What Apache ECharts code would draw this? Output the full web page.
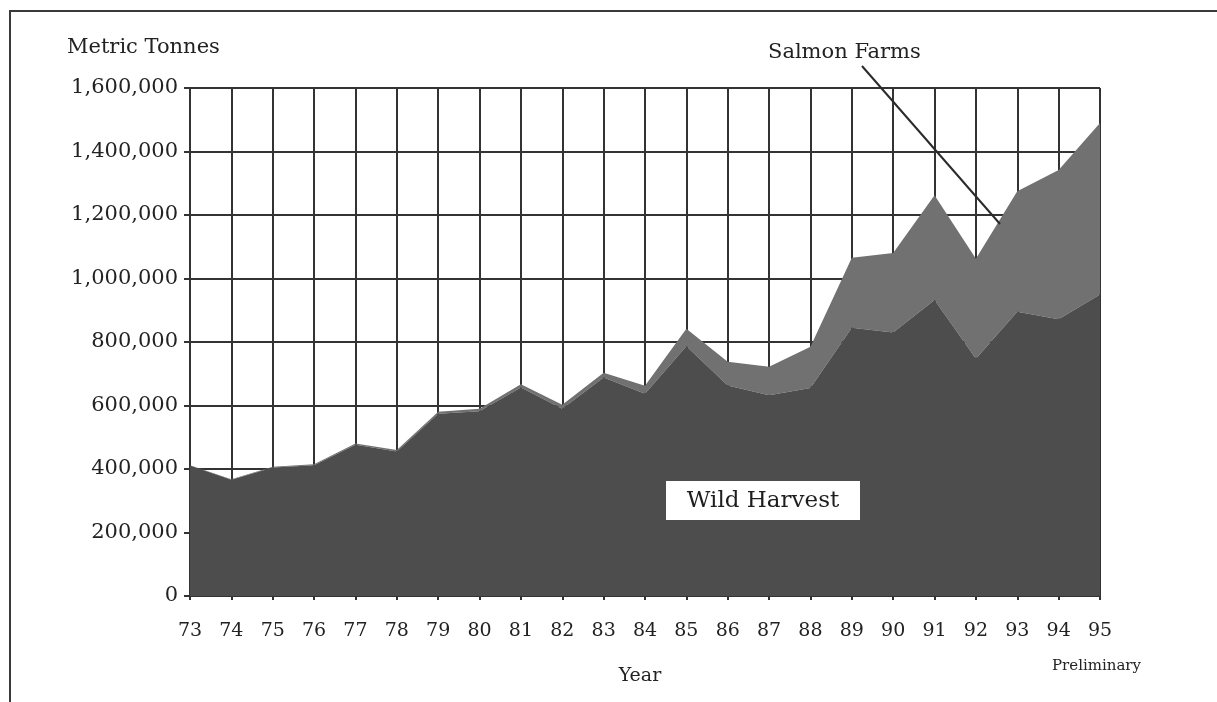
<!DOCTYPE html>
<html>
<head>
<meta charset="utf-8">
<script src="https://cdn.jsdelivr.net/npm/echarts@6/dist/echarts.min.js"></script>
<style>
* {
    margin: 0;
    padding: 0;
}
body {
    background: #ffffff;
}
#chart {
    width: 1217px;
    height: 702px;
}
</style>
</head>
<body>
<div id="chart"></div>
<script>
// years on the x axis
const years = ['73', '74', '75', '76', '77', '78', '79', '80', '81', '82', '83', '84',
    '85', '86', '87', '88', '89', '90', '91', '92', '93', '94', '95'];

// metric tonnes
const wildHarvest = [411, 366, 405, 412, 476, 455, 574, 582, 657, 590, 688, 637,
    787, 663, 632, 655, 845, 830, 932, 747, 895, 872, 950].map(v => v * 1000);
const salmonFarms = [1, 2, 2, 3, 4, 5, 6, 8, 10, 12, 15, 25,
    55, 75, 90, 130, 220, 250, 330, 315, 380, 470, 540].map(v => v * 1000);

const yTicks = [0, 200000, 400000, 600000, 800000, 1000000, 1200000, 1400000, 1600000];

const serif = '"DejaVu Serif", "Liberation Serif", serif';

const chart = echarts.init(document.getElementById('chart'));

const option = {
    backgroundColor: '#ffffff',
    animation: false,
    grid: {
        left: 190,
        right: 117,
        top: 88,
        bottom: 106
    },
    xAxis: {
        type: 'category',
        data: years,
        boundaryGap: false,
        axisLine: { lineStyle: { color: '#333', width: 2 } },
        axisTick: { show: true, length: 4, lineStyle: { color: '#333', width: 2 } },
        axisLabel: {
            fontFamily: serif,
            fontSize: 19,
            color: '#222',
            margin: 26
        },
        splitLine: { show: true, lineStyle: { color: '#333', width: 2 } },
        name: 'Year',
        nameLocation: 'middle',
        nameGap: 71,
        nameTextStyle: { fontFamily: serif, fontSize: 19, color: '#222', padding: [0, 10, 0, 0] }
    },
    yAxis: {
        type: 'value',
        min: 0,
        max: yTicks[yTicks.length - 1],
        interval: yTicks[1] - yTicks[0],
        axisLine: { show: true, lineStyle: { color: '#333', width: 2 } },
        axisTick: { show: true, length: 6, lineStyle: { color: '#333', width: 2 } },
        axisLabel: {
            fontFamily: serif,
            fontSize: 21,
            color: '#222',
            margin: 12,
            formatter: v => v.toLocaleString('en-US')
        },
        splitLine: { show: true, lineStyle: { color: '#333', width: 2 } }
    },
    series: [
        {
            name: 'Wild Harvest',
            type: 'line',
            stack: 'total',
            data: wildHarvest,
            symbol: 'none',
            lineStyle: { width: 0 },
            areaStyle: { color: '#4d4d4d', opacity: 1 },
            z: 3
        },
        {
            name: 'Salmon Farms',
            type: 'line',
            stack: 'total',
            data: salmonFarms,
            symbol: 'none',
            lineStyle: { width: 0 },
            areaStyle: { color: '#717171', opacity: 1 },
            z: 2
        }
    ],
    graphic: [
        // scan frame
        {
            type: 'polyline',
            shape: { points: [[1217, 11], [10, 11], [10, 702]] },
            style: { stroke: '#3a3a3a', lineWidth: 2, fill: null }
        },
        {
            type: 'text',
            x: 67,
            y: 37,
            style: { text: 'Metric Tonnes', font: '21px ' + serif, fill: '#222' }
        },
        {
            type: 'text',
            x: 768,
            y: 42,
            style: { text: 'Salmon Farms', font: '21px ' + serif, fill: '#222' }
        },
        {
            type: 'line',
            shape: { x1: 862, y1: 66, x2: 1000, y2: 224 },
            style: { stroke: '#2a2a2a', lineWidth: 2 },
            z: 100
        },
        {
            type: 'rect',
            shape: { x: 666, y: 481, width: 194, height: 39 },
            style: { fill: '#ffffff' },
            z: 100
        },
        {
            type: 'text',
            x: 763,
            y: 501,
            style: {
                text: 'Wild Harvest',
                font: '23px ' + serif,
                fill: '#1e1e1e',
                align: 'center',
                verticalAlign: 'middle'
            },
            z: 101
        },
        {
            type: 'text',
            x: 1052,
            y: 659,
            style: { text: 'Preliminary', font: '15px ' + serif, fill: '#222' }
        }
    ]
};

chart.setOption(option);
</script>
</body>
</html>
